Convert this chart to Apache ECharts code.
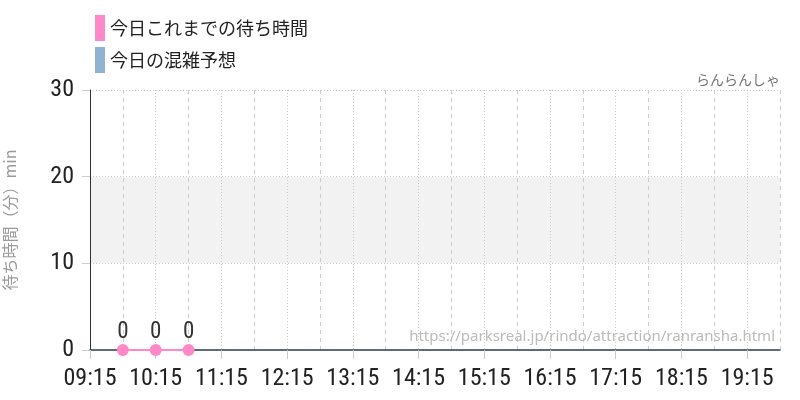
<!DOCTYPE html>
<html><head><meta charset="utf-8">
<script src="https://cdn.jsdelivr.net/npm/echarts@6/dist/echarts.min.js"></script>
<style>html,body{margin:0;padding:0;background:#fff}#c{width:800px;height:400px}</style>
</head><body><div id="c"></div>
<script>
const categories = ['09:15','09:45','10:15','10:45','11:15','11:45','12:15','12:45','13:15','13:45','14:15','14:45','15:15','15:45','16:15','16:45','17:15','17:45','18:15','18:45','19:15','19:45'];
const waitSoFar = [null, 0, 0, 0, null, null, null, null, null, null, null, null, null, null, null, null, null, null, null, null, null, null];
const forecast = [];
const yTicks = [0, 10, 20, 30];
const seriesNames = ['今日これまでの待ち時間', '今日の混雑予想'];

const NUM = "'Roboto Condensed','Liberation Sans Narrow','DejaVu Sans Condensed','Roboto',sans-serif";
const JP = "'Noto Sans CJK JP',sans-serif";

const chart = echarts.init(document.getElementById('c'));
chart.setOption({
  animation: false,
  color: ['#ff88c8', '#8fb3d0'],
  legend: {
    orient: 'vertical', left: 90, top: 10, itemGap: 6,
    itemWidth: 10, itemHeight: 26, icon: 'rect',
    textStyle: { fontFamily: JP, fontSize: 18, color: '#222' },
    data: seriesNames
  },
  grid: { left: 90, right: 20, top: 90, bottom: 50, containLabel: false, outerBoundsMode: 'none' },
  xAxis: [{
    type: 'category', data: categories, boundaryGap: false,
    axisLine: { lineStyle: { color: '#2c3e50', width: 1.5 } },
    axisTick: { interval: 1, length: 9, lineStyle: { color: '#ccc' } },
    axisLabel: { interval: 1, margin: 17, fontFamily: NUM, fontSize: 24, color: '#222' },
    splitLine: { show: true, interval: 1, lineStyle: { color: '#ccc', type: [1, 2] } }
  }, {
    type: 'category', data: categories, boundaryGap: false, position: 'bottom',
    axisLine: { show: false }, axisTick: { show: false }, axisLabel: { show: false },
    splitLine: { show: true, interval: (i) => i % 2 === 1, lineStyle: { color: '#ccc', type: [4, 4] } }
  }],
  yAxis: {
    type: 'value', min: yTicks[0], max: yTicks[yTicks.length - 1], interval: 10,
    name: '待ち時間（分）min', nameLocation: 'middle', nameGap: 72, nameRotate: 90,
    nameTextStyle: { fontFamily: JP, fontSize: 16, color: '#999' },
    axisLine: { show: true, lineStyle: { color: '#333', width: 1 } },
    axisTick: { show: true, length: 8, lineStyle: { color: '#ccc' } },
    axisLabel: { margin: 16, fontFamily: NUM, fontSize: 24, color: '#222' },
    splitLine: { show: true, lineStyle: { color: '#ccc', type: [1, 2] } },
    splitArea: { show: true, areaStyle: { color: ['#ffffff', '#f2f2f2'] } }
  },
  graphic: [{
    type: 'text', right: 20, top: 73, z: 100,
    style: { text: 'らんらんしゃ', font: "14px 'Noto Sans CJK JP'", fill: '#777' }
  }, {
    type: 'text', right: 25, top: 329, z: 100,
    style: { text: 'https://parksreal.jp/rindo/attraction/ranransha.html', font: "15px 'Noto Sans', sans-serif", fill: '#bbb' }
  }],
  series: [{
    name: seriesNames[0], type: 'line', data: waitSoFar, xAxisIndex: 0,
    symbol: 'circle', symbolSize: 12, showSymbol: true,
    lineStyle: { color: '#ff88c8', width: 2 },
    itemStyle: { color: '#ff88c8' },
    label: { show: true, position: 'top', distance: 0, fontFamily: NUM, fontSize: 23, color: '#333' },
    z: 5
  }, {
    name: seriesNames[1], type: 'line', data: forecast, xAxisIndex: 0,
    itemStyle: { color: '#8fb3d0' }
  }]
});
</script></body></html>
